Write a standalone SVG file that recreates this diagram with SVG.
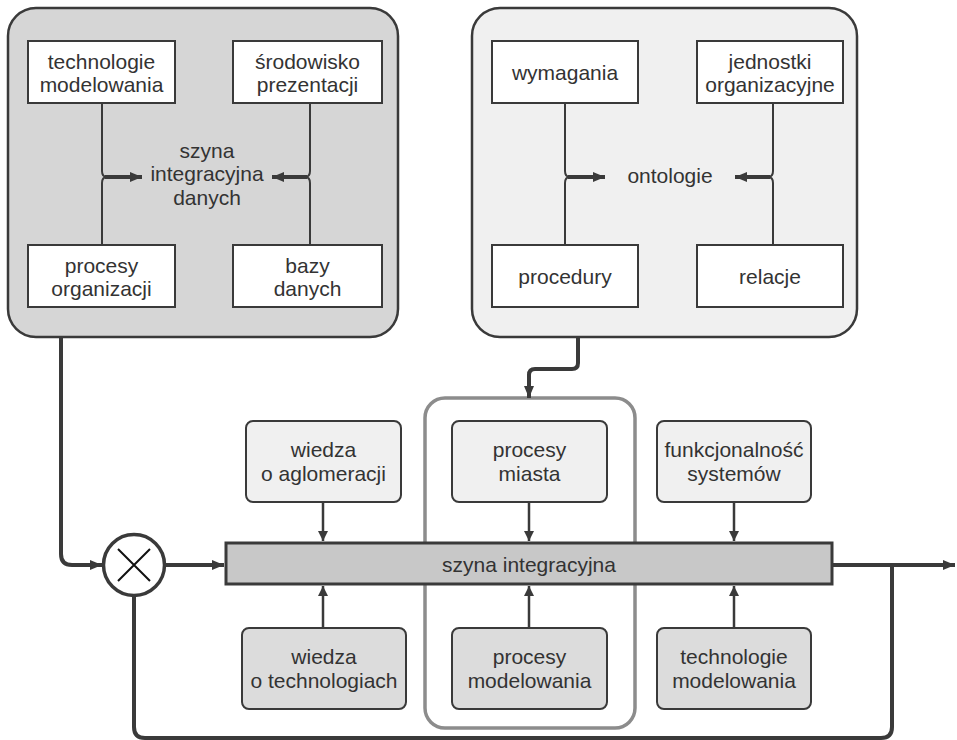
<svg xmlns="http://www.w3.org/2000/svg" width="957" height="740" viewBox="0 0 957 740">
<defs>
<style>
text{font-family:"Liberation Sans",Arial,sans-serif;font-size:21px;fill:#333;text-anchor:middle;dominant-baseline:central}
.panel{stroke:#3a3a3a;stroke-width:2.5}
.wbox{fill:#fff;stroke:#3a3a3a;stroke-width:2}
.lt{fill:#f0f0f0;stroke:#3a3a3a;stroke-width:2}
.dk{fill:#dcdcdc;stroke:#3a3a3a;stroke-width:2}
.thin{fill:none;stroke:#3a3a3a;stroke-width:2}
.thick{fill:none;stroke:#3a3a3a;stroke-width:4}
.med{fill:none;stroke:#3a3a3a;stroke-width:2.5}
</style>
<marker id="ah" viewBox="0 0 12 10" refX="12" refY="5" markerWidth="12" markerHeight="10" markerUnits="userSpaceOnUse" orient="auto">
<path d="M0,0 L12,5 L0,10 Z" fill="#3a3a3a"/>
</marker>
<marker id="ahs" viewBox="0 0 10 10" refX="10" refY="5" markerWidth="10" markerHeight="10" markerUnits="userSpaceOnUse" orient="auto">
<path d="M0,0 L10,5 L0,10 Z" fill="#3a3a3a"/>
</marker>
</defs>

<g id="panel-dane">
<rect class="panel" x="8" y="8" width="390" height="329" rx="28" fill="#d6d6d6"/>
<text x="207" y="150">szyna</text>
<text x="207" y="173">integracyjna</text>
<text x="207" y="197">danych</text>
</g>
<g id="n-technologie-top"><rect class="wbox" x="28" y="41" width="147" height="62"/><text x="101.5" y="61">technologie</text><text x="101.5" y="84">modelowania</text></g>
<g id="n-srodowisko"><rect class="wbox" x="233" y="41" width="149" height="62"/><text x="307.5" y="61">środowisko</text><text x="307.5" y="84">prezentacji</text></g>
<g id="n-procesy-org"><rect class="wbox" x="28" y="245" width="147" height="62"/><text x="101.5" y="265">procesy</text><text x="101.5" y="288">organizacji</text></g>
<g id="n-bazy"><rect class="wbox" x="233" y="245" width="149" height="62"/><text x="307.5" y="265">bazy</text><text x="307.5" y="288">danych</text></g>

<g id="panel-ontologie">
<rect class="panel" x="472" y="8" width="385" height="329" rx="28" fill="#f0f0f0"/>
<text x="670" y="175">ontologie</text>
</g>
<g id="n-wymagania"><rect class="wbox" x="492" y="41" width="146" height="62"/><text x="565" y="72">wymagania</text></g>
<g id="n-jednostki"><rect class="wbox" x="697" y="41" width="146" height="62"/><text x="770" y="61">jednostki</text><text x="770" y="84">organizacyjne</text></g>
<g id="n-procedury"><rect class="wbox" x="492" y="245" width="146" height="62"/><text x="565" y="276">procedury</text></g>
<g id="n-relacje"><rect class="wbox" x="697" y="245" width="146" height="62"/><text x="770" y="276">relacje</text></g>

<g id="grupa-procesy">
<rect x="425" y="398" width="210" height="330" rx="20" fill="none" stroke="#8c8c8c" stroke-width="3.5"/>
</g>

<g id="n-wiedza-aglo"><rect class="lt" x="246" y="421" width="155" height="81" rx="7"/><text x="323.5" y="449">wiedza</text><text x="323.5" y="473">o aglomeracji</text></g>
<g id="n-procesy-miasta"><rect class="lt" x="452" y="421" width="155" height="81" rx="7"/><text x="529.5" y="449">procesy</text><text x="529.5" y="473">miasta</text></g>
<g id="n-funkcjonalnosc"><rect class="lt" x="657" y="421" width="154" height="81" rx="7"/><text x="734" y="449">funkcjonalność</text><text x="734" y="473">systemów</text></g>
<g id="n-wiedza-tech"><rect class="dk" x="242" y="628" width="164" height="81" rx="7"/><text x="324" y="656">wiedza</text><text x="324" y="680">o technologiach</text></g>
<g id="n-procesy-mod"><rect class="dk" x="452" y="628" width="155" height="81" rx="7"/><text x="529.5" y="656">procesy</text><text x="529.5" y="680">modelowania</text></g>
<g id="n-technologie-bot"><rect class="dk" x="657" y="628" width="154" height="81" rx="7"/><text x="734" y="656">technologie</text><text x="734" y="680">modelowania</text></g>

<g id="n-szyna"><rect x="226" y="543" width="606" height="41" fill="#c8c8c8" stroke="#3a3a3a" stroke-width="3"/><text x="529" y="564">szyna integracyjna</text></g>

<g id="n-mnoznik">
<circle cx="134" cy="565" r="30.5" fill="#fff" stroke="#3a3a3a" stroke-width="3.5"/>
<path d="M118 549 L150 581 M150 549 L118 581" stroke="#111" stroke-width="2" fill="none"/>
</g>

<g id="connectors">
<path class="thin" d="M102 103 V171 Q102 177 107 177"/>
<path class="thin" d="M102 245 V183 Q102 177 107 177"/>
<path class="thick" d="M105 177 H142" marker-end="url(#ah)"/>
<path class="thin" d="M310 103 V171 Q310 177 305 177"/>
<path class="thin" d="M310 245 V183 Q310 177 305 177"/>
<path class="thick" d="M307 177 H272" marker-end="url(#ah)"/>

<path class="thin" d="M565 103 V171 Q565 177 570 177"/>
<path class="thin" d="M565 245 V183 Q565 177 570 177"/>
<path class="thick" d="M568 177 H605" marker-end="url(#ah)"/>
<path class="thin" d="M773 103 V171 Q773 177 768 177"/>
<path class="thin" d="M773 245 V183 Q773 177 768 177"/>
<path class="thick" d="M770 177 H735" marker-end="url(#ah)"/>

<path class="thick" d="M61 337 V554 Q61 565 72 565 H102" marker-end="url(#ah)"/>
<path class="thick" d="M165 565 H224" marker-end="url(#ah)"/>
<path class="thick" d="M578 337 V363 Q578 369 572 369 H535 Q529 369 529 375 V398" marker-end="url(#ah)"/>
<path class="thick" d="M832 565 H955" marker-end="url(#ah)"/>
<path class="thick" d="M892 565 V727 Q892 738 881 738 H145 Q134 738 134 727 V596"/>

<path class="med" d="M323 502 V541" marker-end="url(#ahs)"/>
<path class="med" d="M529 502 V541" marker-end="url(#ahs)"/>
<path class="med" d="M734 502 V541" marker-end="url(#ahs)"/>
<path class="med" d="M323 628 V586" marker-end="url(#ahs)"/>
<path class="med" d="M529 628 V586" marker-end="url(#ahs)"/>
<path class="med" d="M734 628 V586" marker-end="url(#ahs)"/>
</g>
</svg>
